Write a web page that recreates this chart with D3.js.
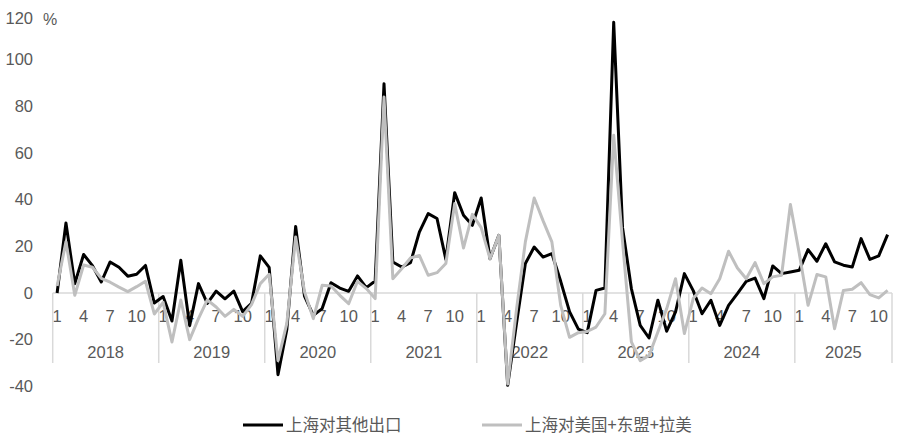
<!DOCTYPE html>
<html>
<head>
<meta charset="utf-8">
<script src="https://cdn.jsdelivr.net/npm/d3@7"></script>
<style>
  body { margin: 0; background: #fff; }
  svg { display: block; }
  text { font-family: "Liberation Sans", "Noto Sans", sans-serif; fill: #595959; }
  .cjk { font-family: "Noto Sans CJK SC", sans-serif; }
</style>
</head>
<body>
<svg width="909" height="446"></svg>
<script>
// monthly yoy, %, Jan 2018 - Nov 2025
var years = [2018, 2019, 2020, 2021, 2022, 2023, 2024, 2025];
var monthTicks = [1, 4, 7, 10];
var yTicks = [-40, -20, 0, 20, 40, 60, 80, 100, 120];
var seriesNames = ["上海对其他出口", "上海对美国+东盟+拉美"];

var otherExport = [
  0, 30, 4, 16.5, 11.7, 4.7, 13.3, 11, 7.2, 8, 11.8, -4.3,
  -1.5, -12, 14, -14, 4, -4.5, 0.8, -2.5, 0.8, -8, -4.5, 15.9,
  11, -35, -15.6, 28.5, -1.3, -9.6, -6.7, 4.4, 2.1, 0.7, 7.3, 2.3,
  5.1, 89.7, 13.3, 11.1, 13, 26.1, 34, 31.9, 14.4, 43, 33.3, 29,
  40.7, 14.7, 24.7, -39.6, -13, 12.6, 19.7, 15.4, 16.9, 5, -8, -15.5,
  -17, 1.1, 2.1, 116, 28, 1.9, -13.9, -19.3, -3.1, -16.4, -8.1, 8.3,
  1, -8.9, -3.1, -13.9, -5.3, -0.3, 5, 6.4, -2.4, 11.6, 8.3, 9,
  9.7, 18.6, 13.6, 21.1, 13.3, 11.9, 11.1, 23.3, 14.4, 15.9, 25
];
var usAseanLatam = [
  3, 22, -1, 12, 11, 6.3, 4.6, 2.5, 0.6, 2.7, 5, -9,
  -4, -21, -3, -20, -11, -3, -6, -10, -7, -10, -5, 4,
  8, -29, -13, 24, 0.5, -11, 3.3, 3, -1, -4.6, 5, 1.9,
  -2.4, 84, 6.1, 10.4, 15, 16.1, 7.6, 8.7, 12.6, 38.3, 19.3, 33.7,
  28, 14.7, 24.7, -39, -7, 21.9, 40.7, 31, 21.9, -5.3, -19, -17,
  -16.5, -14.6, -8.9, 67.6, 22, -21, -29, -26.8, -16.7, -6.7, 6.1, -17.4,
  -2.4, 2.1, -0.3, 6.1, 17.9, 10.7, 6.1, 13, 4, 6.9, 7.6, 37.9,
  17, -5.3, 7.9, 6.9, -15.3, 1.1, 1.6, 4.4, -0.7, -2.1, 1.1
];

var svg = d3.select("svg");

// category keys "year-month"
var months = otherExport.map(function(d, i) {
  return { key: years[Math.floor(i / 12)] + "-" + (i % 12 + 1), year: years[Math.floor(i / 12)], month: i % 12 + 1 };
});

var x = d3.scaleBand()
    .domain(months.map(function(d) { return d.key; }))
    .range([52.7, 892])
    .padding(0);

var y = d3.scaleLinear()
    .domain([-40, 120])
    .range([386.3, 13]);

var cx = function(i) { return x(months[i].key) + x.bandwidth() / 2; };

// y axis labels (top one sits a bit lower, as in the source)
svg.append("g")
    .attr("transform", "translate(33,0)")
    .call(d3.axisLeft(y).tickValues(yTicks).tickFormat(function(d) { return String(d); }).tickSize(0).tickPadding(0))
    .call(function(g) { g.select(".domain").remove(); })
  .selectAll("text")
    .style("font-size", "16.5px")
    .attr("fill", "#595959")
    .attr("dy", function(d) { return d === 120 ? "0.62em" : "0.32em"; });

svg.append("text")
    .attr("x", 43)
    .attr("y", 25)
    .style("font-size", "16px")
    .text("%");

// zero line
svg.append("line")
    .attr("x1", x.range()[0]).attr("x2", x.range()[1])
    .attr("y1", y(0)).attr("y2", y(0))
    .attr("stroke", "#d9d9d9")
    .attr("stroke-width", 1.5);

// month labels
svg.append("g")
    .attr("transform", "translate(0," + (y(0) + 17) + ")")
    .call(d3.axisBottom(x)
        .tickValues(months.filter(function(d) { return monthTicks.indexOf(d.month) >= 0; }).map(function(d) { return d.key; }))
        .tickFormat(function(k) { return k.split("-")[1]; })
        .tickSize(0).tickPadding(0))
    .call(function(g) { g.select(".domain").remove(); })
  .selectAll("text")
    .style("font-size", "16.5px")
    .attr("fill", "#595959");

// year separators + labels
var yearSpan = years.map(function(yr) {
  var ms = months.filter(function(d) { return d.year === yr; });
  return { year: yr, x0: x(ms[0].key), x1: x(ms[ms.length - 1].key) + x.bandwidth() };
});

svg.append("g").selectAll("line")
    .data([yearSpan[0].x0].concat(yearSpan.map(function(d) { return d.x1; })))
  .enter().append("line")
    .attr("x1", function(d) { return d; }).attr("x2", function(d) { return d; })
    .attr("y1", y(0)).attr("y2", 363)
    .attr("stroke", "#d9d9d9")
    .attr("stroke-width", 1.5);

svg.append("g").selectAll("text")
    .data(yearSpan)
  .enter().append("text")
    .attr("x", function(d) { return (d.x0 + d.x1) / 2; })
    .attr("y", 358)
    .attr("text-anchor", "middle")
    .style("font-size", "16.5px")
    .text(function(d) { return d.year; });

// lines
var line = d3.line()
    .x(function(d, i) { return cx(i); })
    .y(function(d) { return y(d); });

var colors = ["#000000", "#bfbfbf"];

[otherExport, usAseanLatam].forEach(function(s, k) {
  svg.append("path")
      .datum(s)
      .attr("fill", "none")
      .attr("stroke", colors[k])
      .attr("stroke-width", 3)
      .attr("stroke-linejoin", "round")
      .attr("d", line);
});

// legend
var legendX = [243, 482];
seriesNames.forEach(function(name, k) {
  var g = svg.append("g").attr("transform", "translate(" + legendX[k] + ",425)");
  g.append("line")
      .attr("x1", 0).attr("x2", 40)
      .attr("stroke", colors[k])
      .attr("stroke-width", 3);
  g.append("text")
      .attr("class", "cjk")
      .attr("x", 43)
      .attr("dy", "0.35em")
      .style("font-size", "16.5px")
      .text(name);
});
</script>
</body>
</html>
